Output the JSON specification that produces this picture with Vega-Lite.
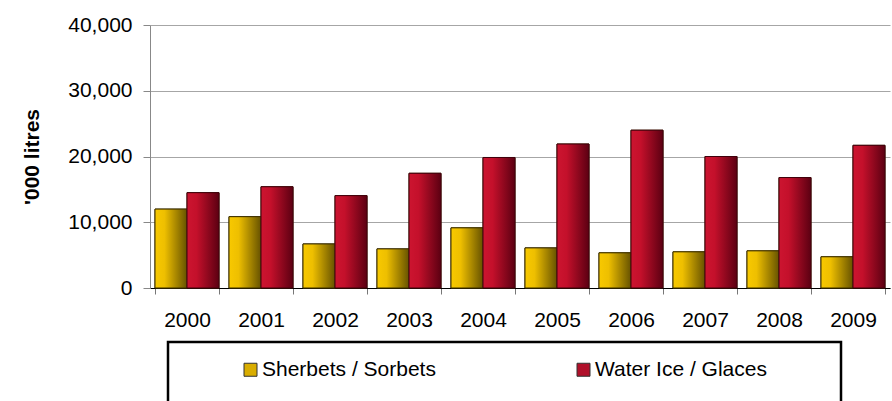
{
  "$schema": "https://vega.github.io/schema/vega-lite/v6.json",
  "width": 740,
  "height": 263,
  "autosize": {"type": "none"},
  "padding": {"left": 150, "top": 25, "right": 2, "bottom": 113},
  "background": "white",
  "data": {
    "values": [
      {"year": "2000", "series": "Sherbets / Sorbets", "value": 12000},
      {"year": "2000", "series": "Water Ice / Glaces", "value": 14500},
      {"year": "2001", "series": "Sherbets / Sorbets", "value": 10850},
      {"year": "2001", "series": "Water Ice / Glaces", "value": 15400},
      {"year": "2002", "series": "Sherbets / Sorbets", "value": 6700},
      {"year": "2002", "series": "Water Ice / Glaces", "value": 14050},
      {"year": "2003", "series": "Sherbets / Sorbets", "value": 5950},
      {"year": "2003", "series": "Water Ice / Glaces", "value": 17450},
      {"year": "2004", "series": "Sherbets / Sorbets", "value": 9150},
      {"year": "2004", "series": "Water Ice / Glaces", "value": 19850},
      {"year": "2005", "series": "Sherbets / Sorbets", "value": 6100},
      {"year": "2005", "series": "Water Ice / Glaces", "value": 21900},
      {"year": "2006", "series": "Sherbets / Sorbets", "value": 5350},
      {"year": "2006", "series": "Water Ice / Glaces", "value": 24000},
      {"year": "2007", "series": "Sherbets / Sorbets", "value": 5500},
      {"year": "2007", "series": "Water Ice / Glaces", "value": 20000},
      {"year": "2008", "series": "Sherbets / Sorbets", "value": 5650},
      {"year": "2008", "series": "Water Ice / Glaces", "value": 16800},
      {"year": "2009", "series": "Sherbets / Sorbets", "value": 4750},
      {"year": "2009", "series": "Water Ice / Glaces", "value": 21700}
    ]
  },
  "encoding": {
    "x": {
      "field": "year",
      "type": "ordinal",
      "scale": {"paddingInner": 0.135, "paddingOuter": 0.0676},
      "axis": {
        "title": null,
        "labelAngle": 0,
        "tickBand": "extent",
        "labelFontSize": 21,
        "labelColor": "black",
        "labelPadding": 15,
        "domainColor": "black",
        "domainWidth": 1,
        "tickColor": "#777777",
        "tickSize": 6,
        "grid": false
      }
    },
    "xOffset": {
      "field": "series",
      "type": "nominal",
      "sort": ["Sherbets / Sorbets", "Water Ice / Glaces"],
      "scale": {"paddingInner": 0, "paddingOuter": 0}
    },
    "y": {
      "field": "value",
      "type": "quantitative",
      "scale": {"domain": [0, 40000], "nice": false},
      "axis": {
        "title": "'000 litres",
        "values": [0, 10000, 20000, 30000, 40000],
        "format": ",d",
        "labelFontSize": 21,
        "labelColor": "black",
        "labelPadding": 11,
        "tickSize": 7,
        "tickColor": "#888888",
        "domainColor": "#888888",
        "grid": true,
        "gridColor": "#a6a6a6",
        "gridWidth": 1,
        "titleFontSize": 21,
        "titleFontWeight": "bold",
        "titleColor": "black",
        "titlePadding": 25
      }
    }
  },
  "layer": [
    {
      "mark": {"type": "bar", "stroke": "#3a2a00", "strokeWidth": 1},
      "encoding": {
        "color": {
          "field": "series",
          "type": "nominal",
          "sort": ["Sherbets / Sorbets", "Water Ice / Glaces"],
          "scale": {"domain": ["Sherbets / Sorbets", "Water Ice / Glaces"], "range": ["#d9ad00", "#b0102a"]},
          "legend": {
            "orient": "none",
            "legendX": 18,
            "legendY": 317,
            "direction": "horizontal",
            "columns": 2,
            "columnPadding": 82,
            "padding": 17,
            "strokeColor": "black",
            "title": "\u00a0",
            "titleOrient": "right",
            "titleFontSize": 60,
            "titlePadding": 57,
            "titleBaseline": "top",
            "symbolType": "square",
            "symbolSize": 169,
            "symbolOffset": 55,
            "symbolStrokeColor": "#333333",
            "symbolStrokeWidth": 1,
            "symbolOpacity": 1,
            "labelFontSize": 21,
            "labelColor": "black",
            "labelOffset": 1,
            "labelLimit": 400,
            "encode": {"legend": {"update": {"strokeWidth": {"value": 2.5}}}}
          }
        }
      }
    },
    {
      "transform": [{"filter": "datum.series == 'Sherbets / Sorbets'"}],
      "mark": {
        "type": "bar",
        "stroke": "#3d3000",
        "strokeWidth": 1,
        "fill": {
          "gradient": "linear",
          "x1": 0, "x2": 1, "y1": 0, "y2": 0,
          "stops": [
            {"offset": 0, "color": "#f8c900"},
            {"offset": 0.3, "color": "#eebf00"},
            {"offset": 1, "color": "#665200"}
          ]
        }
      }
    },
    {
      "transform": [{"filter": "datum.series == 'Water Ice / Glaces'"}],
      "mark": {
        "type": "bar",
        "stroke": "#40000c",
        "strokeWidth": 1,
        "fill": {
          "gradient": "linear",
          "x1": 0, "x2": 1, "y1": 0, "y2": 0,
          "stops": [
            {"offset": 0, "color": "#cc1530"},
            {"offset": 0.3, "color": "#c4102b"},
            {"offset": 1, "color": "#5c0012"}
          ]
        }
      }
    }
  ],
  "config": {
    "view": {"stroke": null},
    "font": "Liberation Sans",
    "axis": {"labelFont": "Liberation Sans", "titleFont": "Liberation Sans"},
    "legend": {"labelFont": "Liberation Sans", "titleFont": "Liberation Sans"}
  }
}
